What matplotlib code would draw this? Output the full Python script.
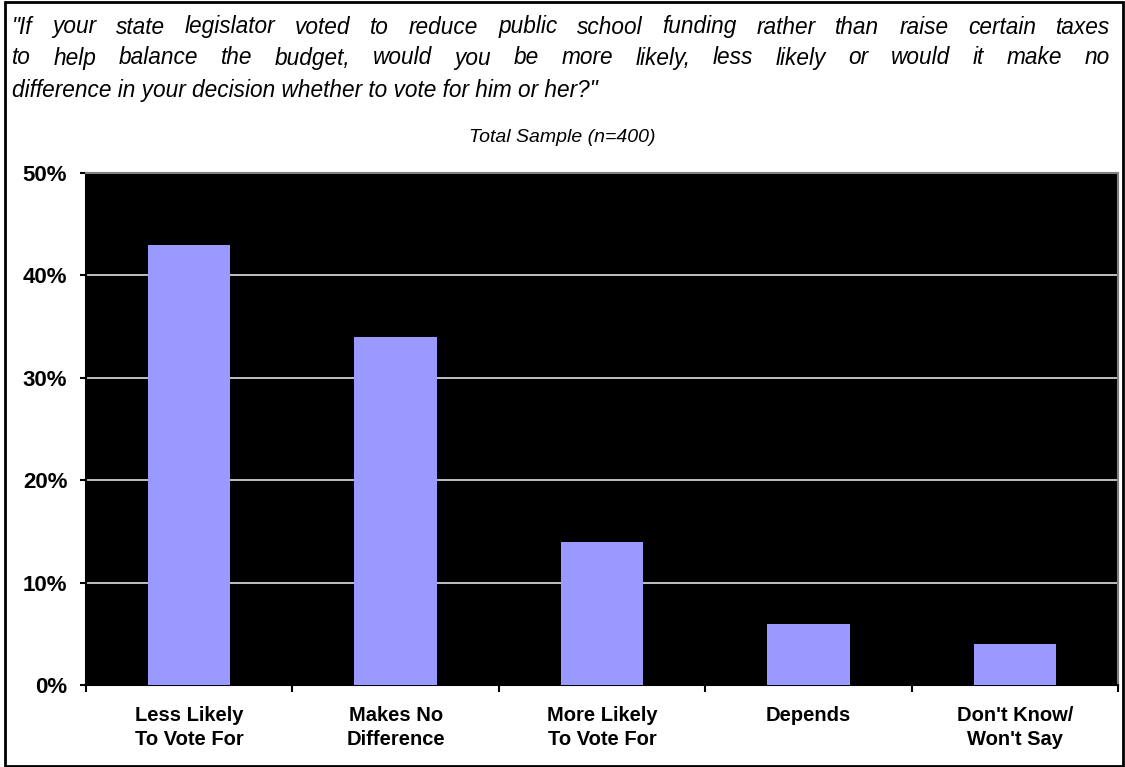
import matplotlib.pyplot as plt
from matplotlib.patches import Rectangle

plt.rcParams['font.family'] = ['Liberation Sans', 'DejaVu Sans']

categories = ['Less Likely\nTo Vote For', 'Makes No\nDifference', 'More Likely\nTo Vote For',
              'Depends', "Don't Know/\nWon't Say"]
values = [43, 34, 14, 6, 4]
yticks = [0, 10, 20, 30, 40, 50]
title_lines = [
    '"If your state legislator voted to reduce public school funding rather than raise certain taxes',
    'to help balance the budget, would you be more likely, less likely or would it make no',
    'difference in your decision whether to vote for him or her?"',
]
subtitle = 'Total Sample (n=400)'

fig = plt.figure(figsize=(11.25, 7.67), dpi=100)
fig.patch.set_facecolor('white')
fig.patches.append(Rectangle((0.004, 0.001), 0.994, 0.996, transform=fig.transFigure,
                             fill=False, edgecolor='black', linewidth=2))

W, H = 1125, 767
ax = fig.add_axes([86 / W, 1 - 685 / H, (1118 - 86) / W, (685 - 173) / H])
ax.set_facecolor('black')

x = range(len(categories))
ax.bar(x, values, width=0.4, color='#9999FF', zorder=3)
ax.set_xlim(-0.5, len(categories) - 0.5)
ax.set_ylim(0, 50)
ax.set_yticks(yticks)
ax.set_yticklabels([f'{v}%' for v in yticks], fontsize=16, fontweight='bold')
ax.yaxis.grid(True, color='#E0E0E0', linewidth=1.2, zorder=1)
ax.set_axisbelow(True)

ax.set_xticks(x)
ax.set_xticklabels(categories, fontsize=14.5, fontweight='bold', linespacing=1.36)
ax.tick_params(axis='x', length=0, pad=15)
ax.set_xticks([i - 0.5 for i in range(len(categories) + 1)], minor=True)
ax.tick_params(axis='x', which='minor', length=5, width=1.5, direction='out')
ax.tick_params(axis='y', length=4.5, width=1.5, direction='out', pad=9)

ax.spines['left'].set_linewidth(1.5)
ax.spines['bottom'].set_linewidth(1.5)
ax.spines['top'].set_color('#808080')
ax.spines['right'].set_color('#808080')
ax.spines['top'].set_linewidth(1.5)
ax.spines['right'].set_linewidth(1.5)

# justified title text, word by word
fig.canvas.draw()
renderer = fig.canvas.get_renderer()
left_px, right_px = 12, 1110
line_y = [27, 58, 90]
tprops = dict(fontsize=16.3, fontstyle='italic', va='center', ha='left')
for i, line in enumerate(title_lines):
    words = line.split(' ')
    y = 1 - line_y[i] / H
    if i == len(title_lines) - 1:
        fig.text(left_px / W, y, line, **tprops)
        continue
    texts = [fig.text(0, y, w, **tprops) for w in words]
    widths = [t.get_window_extent(renderer).width for t in texts]
    gap = (right_px - left_px - sum(widths)) / (len(words) - 1)
    pos = left_px
    for t, w in zip(texts, widths):
        t.set_x(pos / W)
        pos += w + gap

fig.text(562 / W, 1 - 137 / H, subtitle, fontsize=14, fontstyle='italic', ha='center', va='center')

fig.savefig('out.png', dpi=100)
